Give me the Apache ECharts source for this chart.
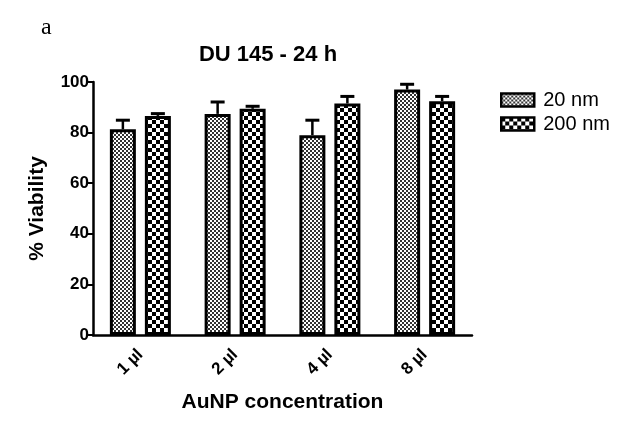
<!DOCTYPE html>
<html><head><meta charset="utf-8">
<script src="https://cdn.jsdelivr.net/npm/echarts@6/dist/echarts.min.js"></script>
<style>html,body{margin:0;padding:0;background:#fff}#c{width:621px;height:433px}</style>
</head><body><div id="c"></div>
<script>
const categories = ['1 µl', '2 µl', '4 µl', '8 µl'];
const seriesNames = ['20 nm', '200 nm'];
const values20 = [81.3, 87.4, 79.0, 97.0];
const err20 = [3.6, 4.7, 5.9, 2.1];
const values200 = [86.6, 89.4, 91.5, 92.4];
const err200 = [0.9, 1.0, 2.8, 1.9];
const yTicks = [0, 20, 40, 60, 80, 100];

function checker(size, dark, light) {
  const c = document.createElement('canvas');
  c.width = size * 2; c.height = size * 2;
  const g = c.getContext('2d');
  g.fillStyle = light; g.fillRect(0, 0, size * 2, size * 2);
  g.fillStyle = dark;
  g.fillRect(0, 0, size, size);
  g.fillRect(size, size, size, size);
  return c;
}
const pat20 = { image: checker(2, '#333', '#fff'), repeat: 'repeat' };
const pat200 = { image: checker(4, '#000', '#fff'), repeat: 'repeat' };

const BW = 26, GAP = 9;
const OFF = (BW + GAP) / 2;
const FONT = 'Liberation Sans, Arial';

function errSeries(vals, errs, sign) {
  return {
    type: 'custom',
    z: 5,
    silent: true,
    data: vals.map((v, i) => [i, v, v + errs[i]]),
    renderItem: function (params, api) {
      const i = api.value(0);
      const base = api.coord([i, api.value(1)]);
      const top = api.coord([i, api.value(2)]);
      const x = base[0] + sign * OFF;
      return {
        type: 'group',
        children: [
          { type: 'line', shape: { x1: x, y1: base[1], x2: x, y2: top[1] }, style: { stroke: '#000', lineWidth: 2.5 } },
          { type: 'line', shape: { x1: x - 7, y1: top[1], x2: x + 7, y2: top[1] }, style: { stroke: '#000', lineWidth: 3 } }
        ]
      };
    }
  };
}

const chart = echarts.init(document.getElementById('c'), null, { renderer: 'canvas' });
chart.setOption({
  animation: false,
  backgroundColor: '#fff',
  title: [
    { text: 'DU 145 - 24 h', left: 263, textAlign: 'center', top: 39,
      textStyle: { fontFamily: FONT, fontWeight: 'bold', fontSize: 22, color: '#000' } },
    { text: 'a', left: 36, top: 11,
      textStyle: { fontFamily: 'Liberation Serif, Times New Roman', fontWeight: 'normal', fontSize: 24, color: '#000' } }
  ],
  legend: {
    left: 495, top: 85, orient: 'vertical', itemWidth: 33, itemHeight: 13, itemGap: 4,
    icon: 'rect',
    itemStyle: { borderColor: '#000', borderWidth: 2.5 },
    textStyle: { fontFamily: FONT, fontSize: 20, color: '#000', padding: [0, 0, 0, 4] },
    data: seriesNames
  },
  grid: { left: 93, right: 149, top: 82, bottom: 98, containLabel: false },
  xAxis: {
    type: 'category', data: categories,
    axisLine: { lineStyle: { color: '#000', width: 2.5 } },
    axisTick: { alignWithLabel: true, length: 7, lineStyle: { color: '#000', width: 2 } },
    axisLabel: { rotate: 45, margin: 17, color: '#000', fontWeight: 'bold', fontSize: 17, fontFamily: FONT },
    name: 'AuNP concentration', nameLocation: 'middle', nameGap: 57,
    nameTextStyle: { color: '#000', fontWeight: 'bold', fontSize: 21, fontFamily: FONT }
  },
  yAxis: {
    type: 'value', min: 0, max: 100, interval: 20,
    axisLine: { show: true, lineStyle: { color: '#000', width: 2.5 } },
    axisTick: { show: true, length: 7, lineStyle: { color: '#000', width: 2 } },
    splitLine: { show: false },
    axisLabel: { color: '#000', fontWeight: 'bold', fontSize: 17, margin: 4, fontFamily: FONT,
      formatter: v => yTicks.indexOf(v) >= 0 ? String(v) : '' },
    name: '% Viability', nameLocation: 'middle', nameGap: 45, nameRotate: 90,
    nameTextStyle: { color: '#000', fontWeight: 'bold', fontSize: 21, fontFamily: FONT }
  },
  series: [
    { name: seriesNames[0], type: 'bar', data: values20, barWidth: BW, barGap: (GAP / BW * 100) + '%',
      itemStyle: { color: pat20, borderColor: '#000', borderWidth: 3 } },
    { name: seriesNames[1], type: 'bar', data: values200, barWidth: BW,
      itemStyle: { color: pat200, borderColor: '#000', borderWidth: 3 } },
    errSeries(values20, err20, -1),
    errSeries(values200, err200, 1)
  ]
});
</script></body></html>
